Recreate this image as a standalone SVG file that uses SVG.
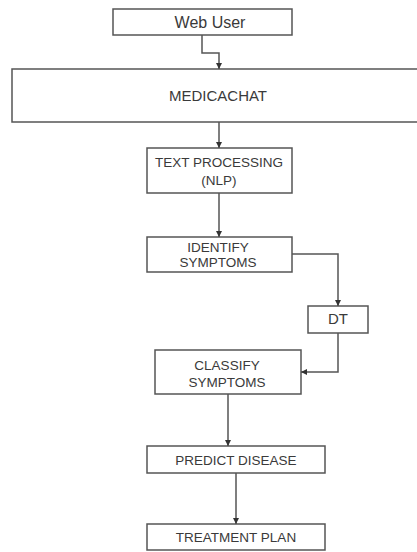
<svg xmlns="http://www.w3.org/2000/svg" width="417" height="552" viewBox="0 0 417 552">
<defs>
<style>
.box{fill:#fff;stroke:#555;stroke-width:1.5}
.t{font-family:"Liberation Sans",Arial,sans-serif;font-size:13.5px;fill:#3a3a3a;text-anchor:middle}
.c{fill:none;stroke:#555;stroke-width:1.5}
</style>
<marker id="ah" viewBox="0 0 10 10" refX="10" refY="5" markerWidth="6" markerHeight="6" markerUnits="userSpaceOnUse" orient="auto">
<path d="M0,0 L10,5 L0,10 Z" fill="#333"/>
</marker>
</defs>
<rect width="417" height="552" fill="#fff"/>
<g id="web-user"><rect class="box" x="113" y="9" width="179" height="26"/><text class="t" x="210" y="28" style="font-size:16px">Web User</text></g>
<g id="medicachat"><rect class="box" x="12" y="69" width="413" height="53"/><text class="t" x="218" y="101" style="font-size:15px">MEDICACHAT</text></g>
<g id="text-processing"><rect class="box" x="147" y="148" width="145" height="45"/><text class="t" x="219" y="167">TEXT PROCESSING</text><text class="t" x="219" y="185">(NLP)</text></g>
<g id="identify"><rect class="box" x="147" y="237" width="145" height="35"/><text class="t" x="218" y="252">IDENTIFY</text><text class="t" x="218" y="267">SYMPTOMS</text></g>
<g id="dt"><rect class="box" x="308" y="306" width="60" height="27"/><text class="t" x="338" y="324" style="font-size:15px">DT</text></g>
<g id="classify"><rect class="box" x="155" y="350" width="146" height="44"/><text class="t" x="227" y="370">CLASSIFY</text><text class="t" x="227" y="387">SYMPTOMS</text></g>
<g id="predict"><rect class="box" x="147" y="446" width="178" height="27"/><text class="t" x="236" y="465">PREDICT DISEASE</text></g>
<g id="treatment"><rect class="box" x="147" y="524" width="178" height="26"/><text class="t" x="236" y="542">TREATMENT PLAN</text></g>
<g id="connectors">
<path class="c" d="M202,35 V53 H219 V69" marker-end="url(#ah)"/>
<path class="c" d="M219,122 V148" marker-end="url(#ah)"/>
<path class="c" d="M219,193 V237" marker-end="url(#ah)"/>
<path class="c" d="M292,254 H338 V306" marker-end="url(#ah)"/>
<path class="c" d="M338,333 V372 H301" marker-end="url(#ah)"/>
<path class="c" d="M228,394 V446" marker-end="url(#ah)"/>
<path class="c" d="M236,473 V524" marker-end="url(#ah)"/>
</g>
</svg>
